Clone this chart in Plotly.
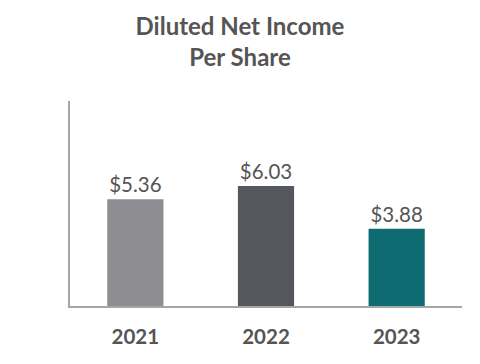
import plotly.graph_objects as go

years = ["2021", "2022", "2023"]
eps = [5.36, 6.03, 3.88]
labels = ["$5.36", "$6.03", "$3.88"]
colors = ["#8e8d91", "#55575e", "#0e6b72"]

fig = go.Figure(go.Bar(
    x=years, y=eps, marker_color=colors, marker_line_width=0,
    width=0.43, text=labels, textposition="outside", cliponaxis=False,
    textfont=dict(family="Lato", size=20.5, color="#555555"),
))
fig.update_layout(
    width=480, height=364,
    margin=dict(l=70, r=18, t=101, b=58),
    plot_bgcolor="white", paper_bgcolor="white",
    showlegend=False,
    title=dict(text="<b>Diluted Net Income<br>Per Share</b>", x=0.5, xanchor="center",
               xref="container", y=0.905, yanchor="top",
               font=dict(family="Lato", size=24, color="#555555")),
)
fig.update_xaxes(showline=True, linecolor="#a6a6a6", linewidth=2, ticks="",
                 tickfont=dict(family="Lato", size=20.5, color="#555555"),
                 ticklabelstandoff=11,
                 tickprefix="<b>", ticksuffix="</b>", showgrid=False)
fig.update_yaxes(range=[0, 10.3], showline=True, linecolor="#a6a6a6", linewidth=2,
                 showticklabels=False, showgrid=False, zeroline=False, ticks="")
fig.write_html("out.html", config={"displayModeBar": False},
               post_script="document.body.style.margin='0';")
